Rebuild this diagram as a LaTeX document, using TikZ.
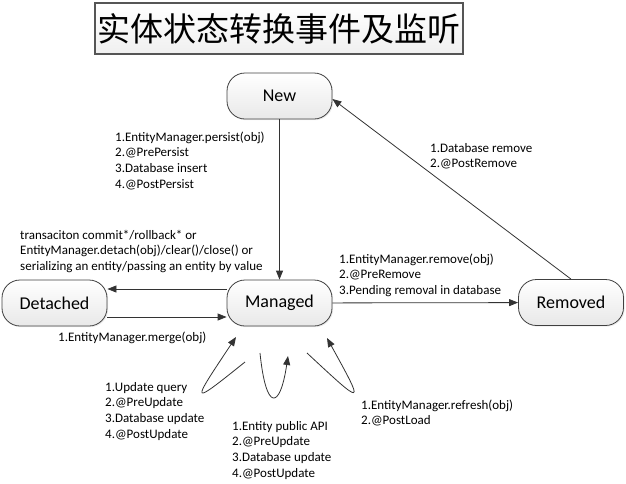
\documentclass[tikz,border=0pt]{standalone}
\usepackage{fontspec}
\setmainfont{Carlito}
\newfontfamily\cjk{Noto Sans CJK SC}
\usetikzlibrary{arrows.meta,calc,shadows}

\begin{document}
\begin{tikzpicture}[x=1pt,y=1pt,yscale=-1,xscale=1,
  state/.style={draw={rgb, 255:red, 64; green, 64; blue, 64},line width=0.8pt,rounded corners=18pt,
    minimum width=105pt,minimum height=46pt,inner sep=0pt,top color=white,bottom color=black!9,
    drop shadow={opacity=0.15,shadow xshift=1.2pt,shadow yshift=-1.2pt},
    font=\fontsize{18}{20}\selectfont},
  conn/.style={draw={rgb, 255:red, 51; green, 51; blue, 51},line width=0.8pt,-{Triangle[length=9pt,width=7pt]}},
  lbl/.style={anchor=base west,align=left,inner sep=0pt,font=\fontsize{13}{15.8}\selectfont}]
\useasboundingbox (0,0) rectangle (626,483);

%Shape: Title box
\node [draw={rgb, 255:red, 85; green, 85; blue, 85},line width=1.4pt,top color=white,bottom color=black!6,
  minimum width=368pt,minimum height=51pt,inner sep=0pt,font=\cjk\fontsize{33}{36}\selectfont] (title) at (279,28.5) {实体状态转换事件及监听};

%Shape: States
\node [state] (New) at (279.5,96) {New};
\node [state] (Managed) at (279.5,303) {Managed};
\node [state] (Detached) at (54.5,303) {Detached};
\node [state] (Removed) at (571,302.5) {Removed};

%Shape: Transitions
\draw [conn] (New) -- (Managed);
\draw [conn] ($(Managed.west)+(0,-14)$) -- ($(Detached.east)+(0,-14)$);
\draw [conn] ($(Detached.east)+(0,14)$) -- ($(Managed.west)+(0,14)$);
\draw [conn] (Managed) -- (Removed);
\draw [conn] (Removed.north) -- ($(New.east)+(0,3)$);

%Shape: Loops below Managed
\coordinate (uqA) at (245,362); \coordinate (uqB) at (236,337);
\draw [conn] (uqA) .. controls (190,406) and (190,406) .. (uqB);
\coordinate (apiA) at (260,353); \coordinate (apiB) at (288,356);
\draw [conn] (apiA) .. controls (266,412) and (280,410) .. (apiB);
\coordinate (refA) at (307,353); \coordinate (refB) at (327,338);
\draw [conn] (refA) .. controls (365,407) and (365,407) .. (refB);

% Text Node (base = last line)
\node [lbl] (persistTxt) at (115,188.4) {1.EntityManager.persist(obj)\\2.@PrePersist\\3.Database insert\\4.@PostPersist};
% Text Node
\node [lbl] (detachTxt) at (20,270.6) {transaciton commit*/rollback* or\\EntityManager.detach(obj)/clear()/close() or\\serializing an entity/passing an entity by value};
% Text Node
\node [lbl] (mergeTxt) at (58,341) {1.EntityManager.merge(obj)};
% Text Node
\node [lbl] (removeTxt) at (339,294.6) {1.EntityManager.remove(obj)\\2.@PreRemove\\3.Pending removal in database};
% Text Node
\node [lbl] (dbRemoveTxt) at (430,167.8) {1.Database remove\\2.@PostRemove};
% Text Node
\node [lbl] (queryTxt) at (105,438.4) {1.Update query\\2.@PreUpdate\\3.Database update\\4.@PostUpdate};
% Text Node
\node [lbl] (apiTxt) at (232,477.4) {1.Entity public API\\2.@PreUpdate\\3.Database update\\4.@PostUpdate};
% Text Node
\node [lbl] (refreshTxt) at (361,424.8) {1.EntityManager.refresh(obj)\\2.@PostLoad};

\end{tikzpicture}
\end{document}
